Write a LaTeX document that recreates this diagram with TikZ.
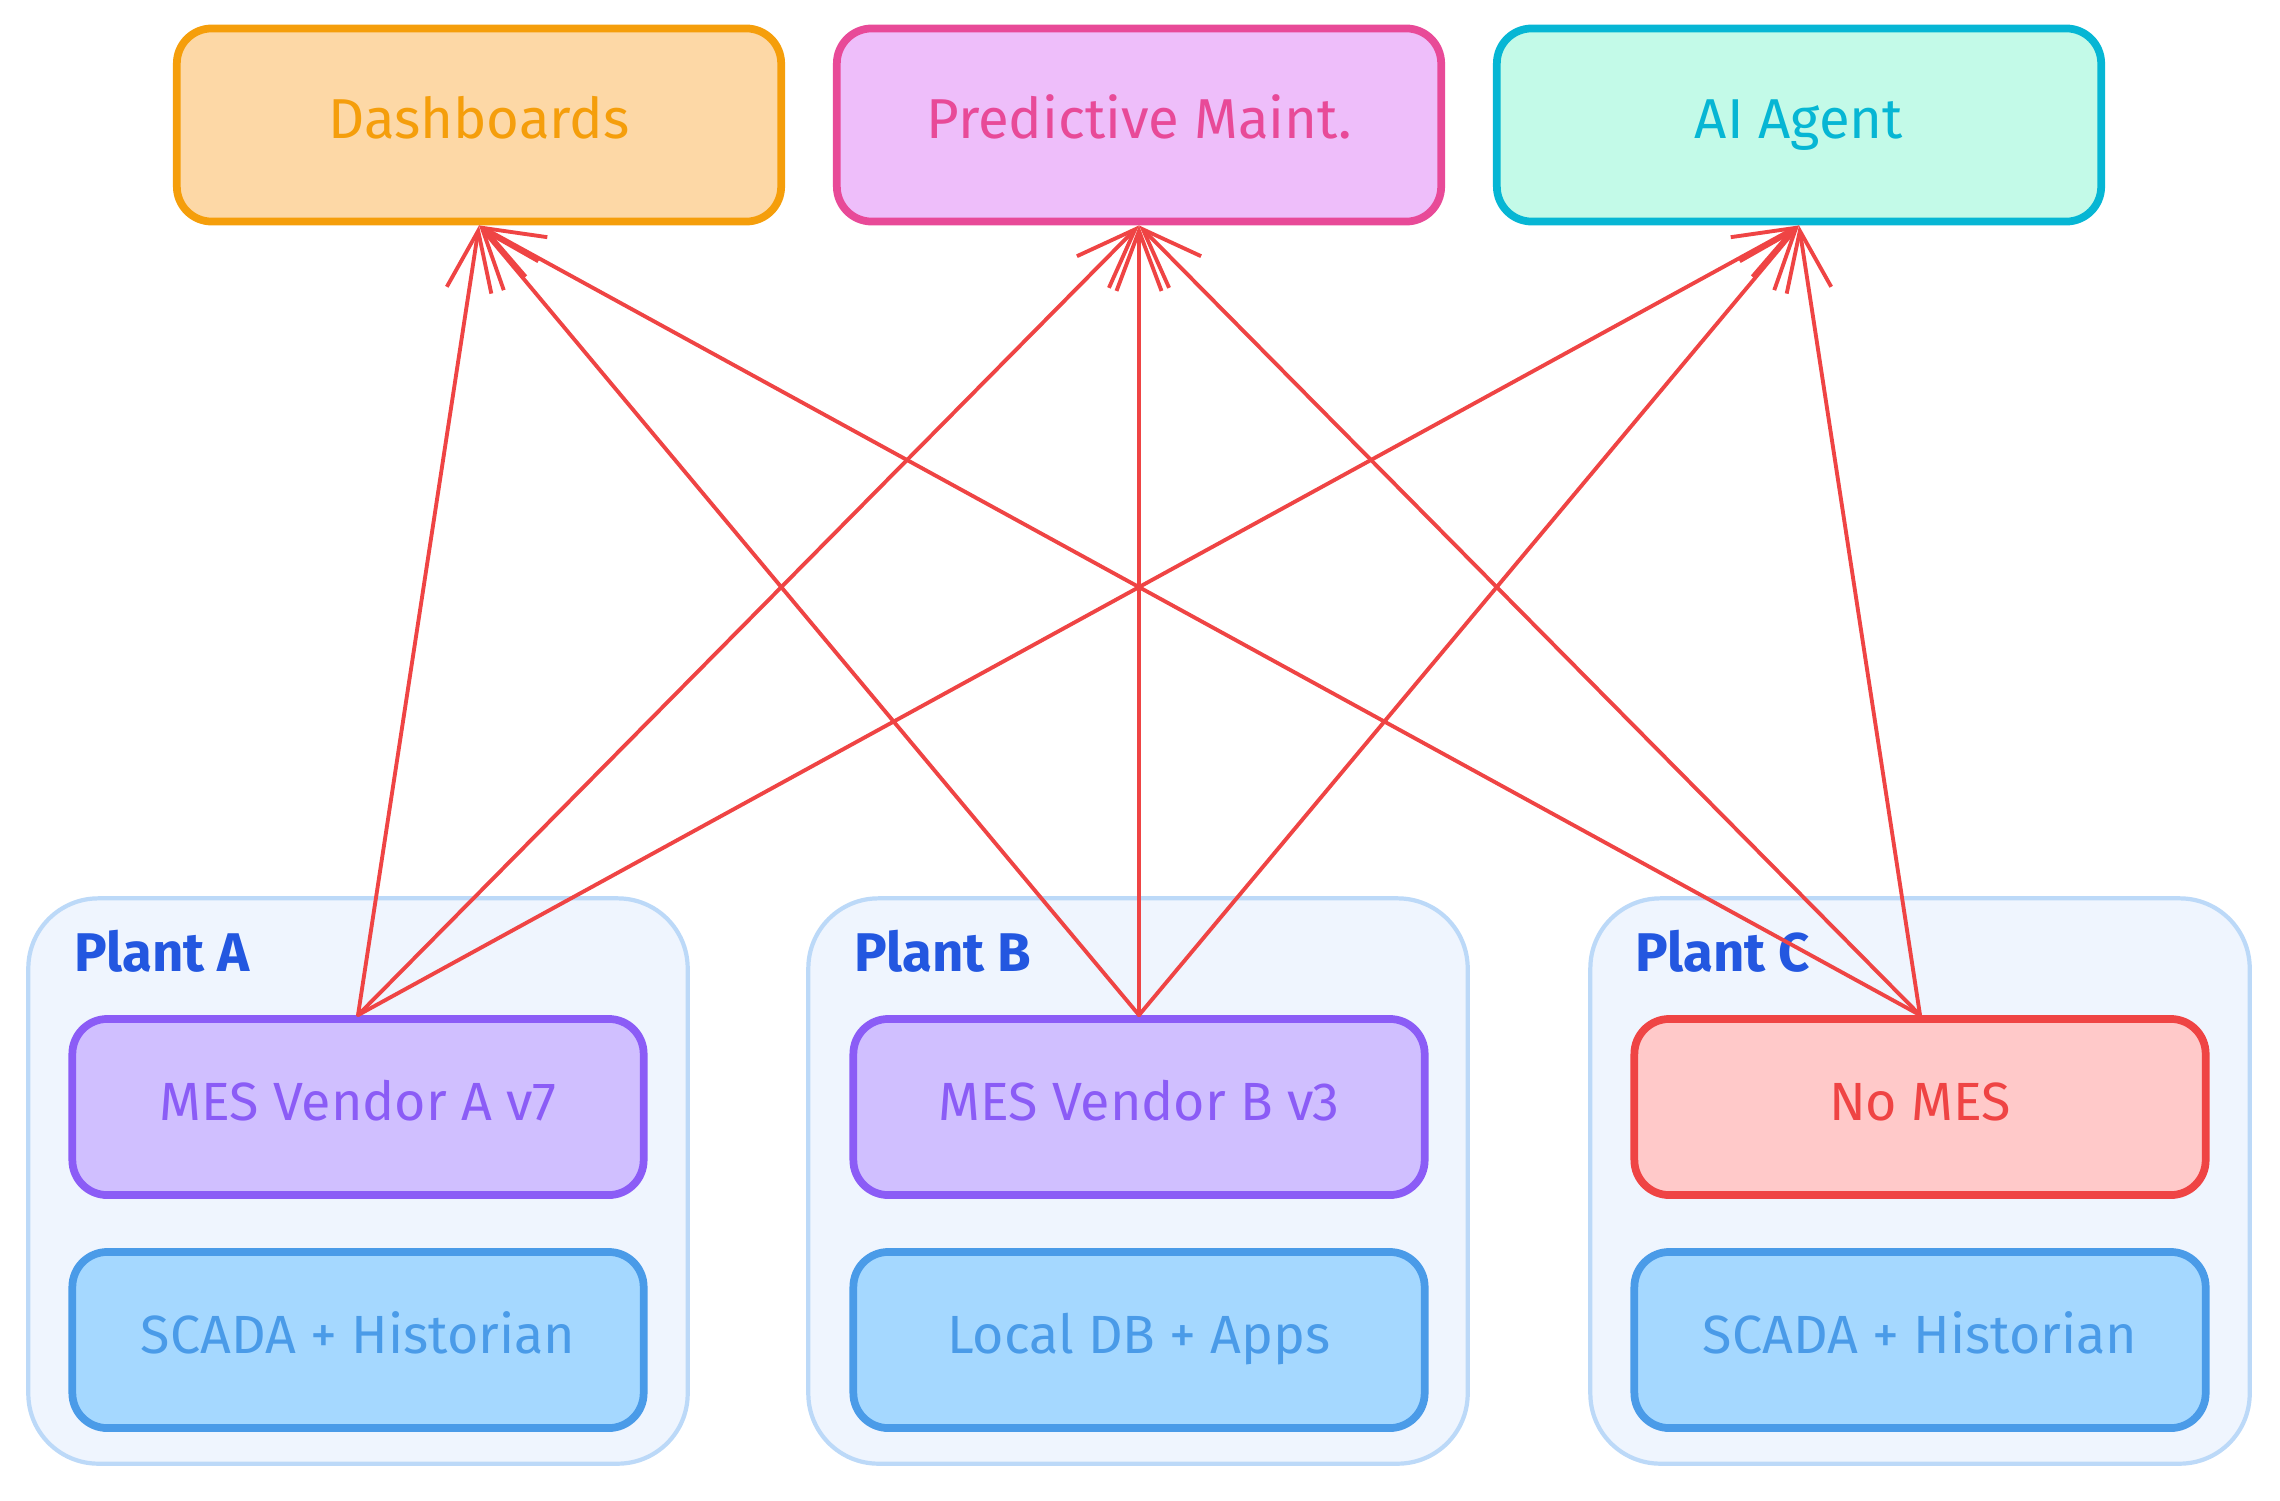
\documentclass[tikz,border=0pt]{standalone}
\usepackage{fontspec}
\setmainfont{Fira Sans}
\usetikzlibrary{positioning,arrows.meta}

\definecolor{dashfill}{HTML}{FDD8A6}
\definecolor{dashline}{HTML}{F59E0B}
\definecolor{predfill}{HTML}{EEBEFA}
\definecolor{predline}{HTML}{E84A98}
\definecolor{aifill}{HTML}{C3FAE8}
\definecolor{ailine}{HTML}{06B6D4}
\definecolor{mesfill}{HTML}{D0BFFF}
\definecolor{mesline}{HTML}{8B5CF6}
\definecolor{scadafill}{HTML}{A5D8FF}
\definecolor{scadaline}{HTML}{4A9BE8}
\definecolor{nomesfill}{HTML}{FFC9C9}
\definecolor{nomesline}{HTML}{EF4444}
\definecolor{plantfill}{HTML}{EFF5FE}
\definecolor{plantline}{HTML}{BCD9F8}
\definecolor{plantblue}{HTML}{2357E0}
\definecolor{feedred}{HTML}{EF4444}

\begin{document}
\begin{tikzpicture}[x=0.01cm, y=-0.01cm, font=\fontsize{16}{19}\selectfont,
        topbox/.style={draw, rounded corners=0.35cm, line width=2.2pt,
          minimum width=6.04cm, minimum height=1.93cm,
          text height=0.9em, text depth=0.15em},
        plant/.style={draw=plantline, fill=plantfill, rounded corners=0.7cm,
          line width=1.2pt, minimum width=6.59cm, minimum height=5.65cm},
        inner/.style={draw, rounded corners=0.35cm, line width=2.2pt,
          minimum width=5.71cm, minimum height=1.76cm,
          font=\fontsize{15.3}{18}\selectfont,
          text height=0.9em, text depth=0.15em},
        mes/.style={inner, draw=mesline, fill=mesfill, text=mesline},
        scada/.style={inner, draw=scadaline, fill=scadafill, text=scadaline},
        plantlabel/.style={anchor=west, text=plantblue,
          font=\fontsize{15.5}{19}\selectfont\bfseries},
        feed/.style={draw=feedred, line width=1.1pt, line cap=round,
          -{Straight Barb[length=0.6cm, width=0.45cm]}}]
  \useasboundingbox (0,0) rectangle (2280,1500);

  % consumers
  \node[topbox, draw=dashline, fill=dashfill, text=dashline] (dash) at (479,125) {Dashboards};
  \node[topbox, draw=predline, fill=predfill, text=predline] (pred) at (1139,125) {Predictive Maint.};
  \node[topbox, draw=ailine, fill=aifill, text=ailine] (agent) at (1799,125) {AI Agent};

  % plants
  \node[plant] (plantA) at (358,1181) {};
  \node[plant] (plantB) at (1138,1181) {};
  \node[plant] (plantC) at (1920,1181) {};
  \node[plantlabel] (labA) at (62,951) {Plant A};
  \node[plantlabel] (labB) at (842,951) {Plant B};
  \node[plantlabel] (labC) at (1623,951) {Plant C};

  \node[mes] (mesA) at (358,1107) {MES Vendor A v7};
  \node[scada] (scadaA) at (358,1340) {SCADA + Historian};
  \node[mes] (mesB) at (1139,1107) {MES Vendor B v3};
  \node[scada] (dbB) at (1139,1340) {Local DB + Apps};
  \node[inner, draw=nomesline, fill=nomesfill, text=nomesline] (mesC) at (1920,1107) {No MES};
  \node[scada] (scadaC) at (1920,1340) {SCADA + Historian};

  % point-to-point feeds
  \foreach \src in {mesA, mesB, mesC}
    \foreach \dst in {dash, pred, agent}
      \draw[feed] (\src.north) -- (\dst.south);
\end{tikzpicture}
\end{document}
